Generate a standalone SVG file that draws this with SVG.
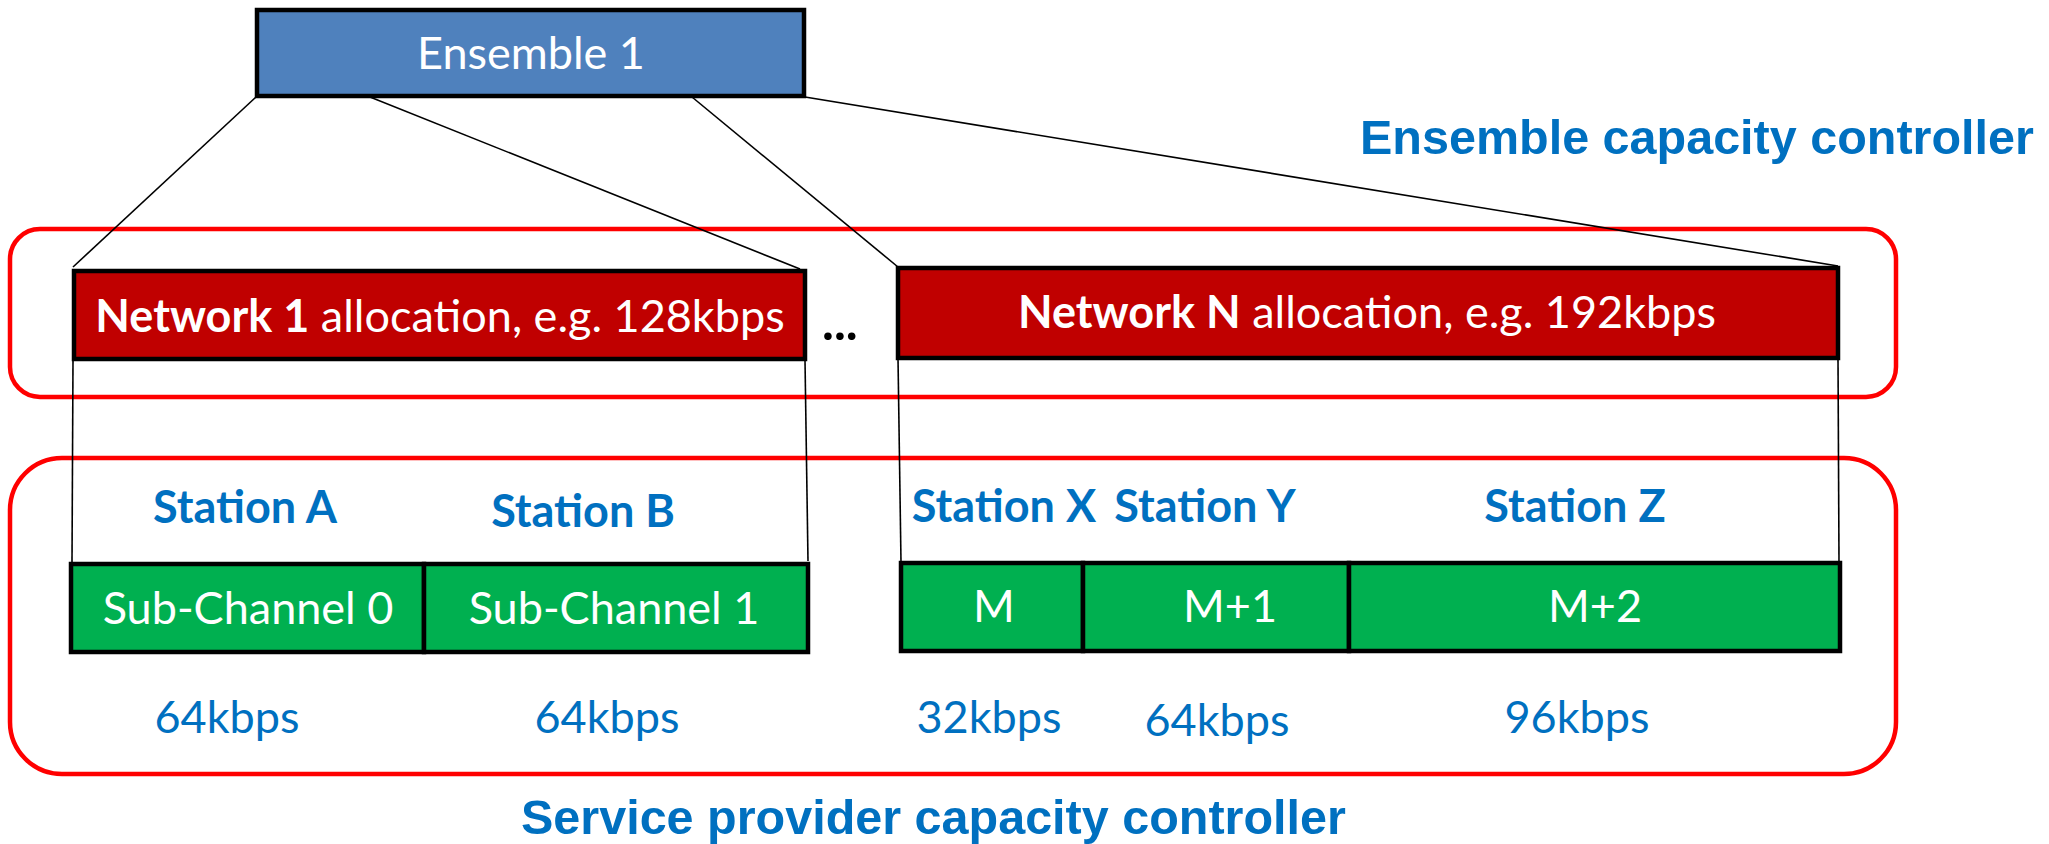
<svg xmlns="http://www.w3.org/2000/svg" width="2049" height="844" viewBox="0 0 2049 844">
  <style>
    .box { stroke: #000; stroke-width: 4.5; }
    .ens { fill: #4F81BD; }
    .net { fill: #C00000; }
    .sub { fill: #00B050; }
    .zone { fill: none; stroke: #FF0000; stroke-width: 4.5; }
    .link { stroke: #000; stroke-width: 1.6; fill: none; }
    .lbl { font-family: Lato, "Open Sans", "Liberation Sans", sans-serif; font-size: 45px; fill: #fff; text-anchor: middle; }
    .st { font-family: Lato, "Open Sans", "Liberation Sans", sans-serif; font-size: 45px; font-weight: bold; fill: #0070C0; text-anchor: middle; }
    .rate { font-family: Lato, "Open Sans", "Liberation Sans", sans-serif; font-size: 45px; fill: #0070C0; text-anchor: middle; }
    .title { font-family: "Liberation Sans", Arial, sans-serif; font-size: 48.5px; font-weight: bold; fill: #0070C0; }
  </style>

  <!-- controller zones -->
  <g id="ensemble-zone">
    <rect class="zone" x="10" y="229" width="1886" height="168" rx="30" ry="30"/>
  </g>
  <g id="provider-zone">
    <rect class="zone" x="10" y="458" width="1886" height="316" rx="52" ry="52"/>
  </g>

  <!-- connectors -->
  <g id="connectors">
    <line class="link" x1="256" y1="97" x2="73" y2="267"/>
    <line class="link" x1="370" y1="97" x2="800" y2="269"/>
    <line class="link" x1="692" y1="97" x2="898" y2="267"/>
    <line class="link" x1="805" y1="97" x2="1838" y2="266"/>
    <line class="link" x1="73" y1="360" x2="72" y2="563"/>
    <line class="link" x1="805" y1="360" x2="808" y2="561"/>
    <line class="link" x1="898" y1="358" x2="901" y2="562"/>
    <line class="link" x1="1838" y1="358" x2="1839" y2="561"/>
  </g>

  <g id="ensemble-1">
    <rect class="box ens" x="257" y="10" width="547" height="86"/>
    <text class="lbl" x="531" y="69">Ensemble 1</text>
  </g>

  <g id="network-1">
    <rect class="box net" x="74" y="271" width="731" height="88"/>
    <text class="lbl" x="440" y="332"><tspan font-weight="bold">Network 1</tspan> allocation, e.g. 128kbps</text>
  </g>

  <g id="ellipsis">
    <text x="822" y="340" font-family="Lato, 'Liberation Sans', sans-serif" font-size="50" font-weight="bold" fill="#000">...</text>
  </g>

  <g id="network-n">
    <rect class="box net" x="898" y="268" width="940" height="90"/>
    <text class="lbl" x="1367" y="328"><tspan font-weight="bold">Network N</tspan> allocation, e.g. 192kbps</text>
  </g>

  <g id="sub-channel-0">
    <rect class="box sub" x="71" y="564" width="353" height="88"/>
    <text class="lbl" x="248" y="624">Sub-Channel 0</text>
    <text class="st" x="245" y="523">Station A</text>
    <text class="rate" x="227" y="733">64kbps</text>
  </g>

  <g id="sub-channel-1">
    <rect class="box sub" x="424" y="564" width="384" height="88"/>
    <text class="lbl" x="614" y="624">Sub-Channel 1</text>
    <text class="st" x="583" y="527">Station B</text>
    <text class="rate" x="607" y="733">64kbps</text>
  </g>

  <g id="sub-channel-m">
    <rect class="box sub" x="901" y="563" width="182" height="88"/>
    <text class="lbl" x="994" y="622">M</text>
    <text class="st" x="1004" y="522">Station X</text>
    <text class="rate" x="989" y="733">32kbps</text>
  </g>

  <g id="sub-channel-m1">
    <rect class="box sub" x="1083" y="563" width="266" height="88"/>
    <text class="lbl" x="1230" y="622">M+1</text>
    <text class="st" x="1205" y="522">Station Y</text>
    <text class="rate" x="1217" y="736">64kbps</text>
  </g>

  <g id="sub-channel-m2">
    <rect class="box sub" x="1349" y="563" width="491" height="88"/>
    <text class="lbl" x="1595" y="622">M+2</text>
    <text class="st" x="1575" y="522">Station Z</text>
    <text class="rate" x="1577" y="733">96kbps</text>
  </g>

  <g id="titles">
    <text class="title" x="1360" y="154">Ensemble capacity controller</text>
    <text class="title" x="521" y="834">Service provider capacity controller</text>
  </g>
</svg>
